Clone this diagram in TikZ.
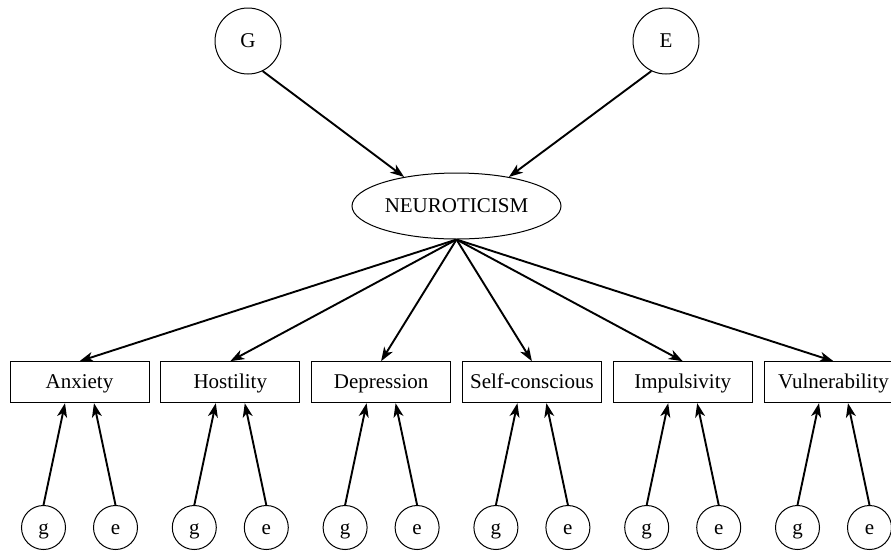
\documentclass[tikz,border=0pt]{standalone}
\usepackage{fontspec}
\setmainfont{Liberation Serif}
\usetikzlibrary{arrows.meta,shapes.geometric}
\begin{document}
\begin{tikzpicture}[x=1pt,y=-1pt,
  every node/.style={font=\fontsize{21}{24}\selectfont, inner sep=0pt, text height=15.5pt, text depth=2.5pt},
  bigcirc/.style={draw, circle, minimum size=66pt, line width=1pt},
  smallcirc/.style={draw, circle, minimum size=44pt, line width=1pt},
  latent/.style={draw, ellipse, minimum width=209pt, minimum height=66pt, line width=1pt},
  facet/.style={draw, rectangle, minimum width=139pt, minimum height=41pt, line width=1pt},
  arr/.style={-{Stealth[length=14pt,width=10pt,inset=4pt]}, line width=1.9pt}
]
\clip (0,0) rectangle (891,550);
\fill[white] (0,0) rectangle (891,550);

\node[bigcirc] (G) at (248,41) {G};
\node[bigcirc] (E) at (666,41) {E};
\node[latent] (N) at (456.5,206) {NEUROTICISM};

\draw[arr] (G.-64) -- (N.151.5);
\draw[arr] (E.-116) -- (N.29.3);

\foreach \i/\name/\lab in {0/anx/Anxiety,1/hos/Hostility,2/dep/Depression,3/sel/Self-conscious,4/imp/Impulsivity,5/vul/Vulnerability}{
  \pgfmathsetmacro{\cx}{79.5+150.8*\i}
  \node[facet] (\name) at (\cx,382.2) {\lab};
  \node[smallcirc] (g\name) at (\cx-36,527.5) {g};
  \node[smallcirc] (e\name) at (\cx+36,527.5) {e};
  \draw[arr] (N.south) -- (\name.north);
  \draw[arr] (g\name.north) -- ([xshift=-14.5pt]\name.south);
  \draw[arr] (e\name.north) -- ([xshift=14.5pt]\name.south);
}
\end{tikzpicture}
\end{document}
